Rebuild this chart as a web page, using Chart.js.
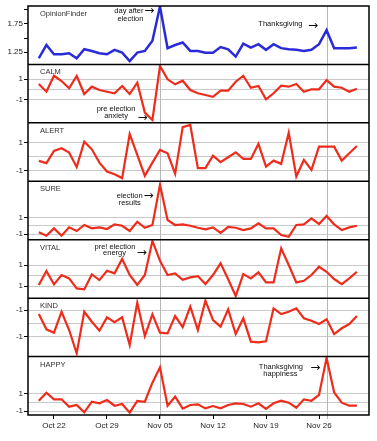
<!DOCTYPE html>
<html lang="en">
<head>
  <meta charset="UTF-8" />
  <title>Public mood time series</title>
  <script src="https://cdn.jsdelivr.net/npm/chart.js"></script>
  <style>
    html, body { margin: 0; padding: 0; background: #fff; }
    #wrap { width: 377px; height: 441px; }
  </style>
</head>
<body>
  <div id="wrap"><canvas id="moodChart"></canvas></div>

  <script>
    // day 0 = Oct 20 2008, one value per day up to Dec 1
    const tickDays = [2, 9, 16, 23, 30, 37];
    const tickLabels = ['Oct 22', 'Oct 29', 'Nov 05', 'Nov 12', 'Nov 19', 'Nov 26'];
    const markerDays = [16, 38]; // day after election, Thanksgiving

    const opinionFinder = [1.14, 1.375, 1.21, 1.21, 1.23, 1.14, 1.30, 1.27, 1.23, 1.21, 1.29, 1.24, 1.09, 1.24, 1.27, 1.45, 2.06, 1.32, 1.375, 1.42,
      1.27, 1.27, 1.24, 1.24, 1.34, 1.30, 1.17, 1.40, 1.33, 1.39, 1.29, 1.39, 1.32, 1.30, 1.29, 1.27, 1.29, 1.39, 1.64, 1.32, 1.32, 1.32, 1.33];
    const calm = [0.52, -0.21, 1.31, 0.81, 0.11, 1.29, -0.43, 0.27, -0.05, -0.21, -0.36, 0.33, -0.43, 0.65, -2.2, -2.9, 2.24, 0.97, 0.49, 0.84,
      -0.05, -0.36, -0.52, -0.69, -0.11, -0.11, 0.74, 1.31, 0.17, 0.33, -0.93, -0.36, 0.36, 0.27, 0.52, -0.21, 0.02, 0.02, 0.9, 0.27, 0.17, -0.21, 0.08];
    const alert = [-0.29, -0.45, 0.42, 0.6, 0.3, -0.73, 1.07, 0.53, -0.41, -1.04, -1.23, -1.5, 1.61, 0.13, -1.35, -0.41, 0.49, 0.25, -1.2, 2.1,
      2.25, -0.8, -0.8, 0.08, -0.38, -0.03, 0.32, -0.15, -0.15, 0.91, -0.69, -0.27, -0.5, 1.7, -1.39, -0.22, -0.92, 0.72, 0.72, 0.72, -0.27, 0.25, 0.77];
    const sure = [-0.8, -1.2, -0.32, -1.2, -0.2, -0.64, 0.08, -0.32, -0.2, -0.4, 0.16, -0.01, -0.64, 0.47, -0.25, 0.08, 4.9, 0.68, 0.08, 0.16,
      -0.01, -0.25, -0.44, -0.2, -0.85, -0.16, -0.25, -0.52, -0.32, 0.28, -0.32, -0.32, -1.12, -1.33, 0.08, 0.16, 0.88, 0.2, 1.16, 0.16, -0.52, -0.2, -0.01];
    const vital = [-0.9, 0.43, -0.84, 0.05, -0.27, -1.22, -1.32, 0.11, -0.43, 0.46, 0.21, 1.57, 0.05, -0.9, 0.05, 3.29, 1.4, 0.05, 0.21, -0.4,
      -0.17, -0.05, -0.81, 0.05, 1.16, -0.36, -1.95, 0.14, -0.27, 0.3, -0.65, -0.65, 2.59, 1.0, -0.65, -0.5, 0.05, 0.84, 0.36, -0.33, -0.81, -0.27, 0.36];
    const kind = [0.7, -0.45, -0.7, 0.87, -0.5, -2.24, 0.87, 0.12, -0.55, 0.45, 0.08, 0.45, -1.62, 1.55, -0.95, 0.68, -0.7, -0.75, 0.55, -0.28,
      1.25, -0.5, 1.7, 0.25, -0.25, 1.05, -0.8, 0.38, -1.37, -1.42, -1.35, 1.13, 0.7, 0.87, 1.13, 0.38, 0.2, -0.05, 0.3, -0.8, -0.37, -0.05, 0.55];
    const happy = [0.16, 1.07, 0.32, 0.32, -0.51, -0.32, -1.15, 0.05, -0.13, 0.24, -0.4, -0.21, -1.19, 0.13, 0.05, 2.2, 3.94, -0.4, 0.62, -0.73,
      -0.32, -0.24, -0.7, -0.44, -0.7, -0.32, -0.13, -0.21, -0.51, -0.13, -0.77, -0.13, 0.16, -0.06, -0.63, 0.32, 0.16, 0.81, 5.0, 1.1, -0.06, -0.4, -0.4];

    // y tick values and the text printed next to them
    const ofTicks = [1.25, 1.5, 1.75, 2.0];
    const ofTickLabels = ['1.25', '', '1.75', ''];
    const zTicks = [-1, 0, 1];
    const zTickLabels = ['-1', '', '1'];
    const vitalTickLabels = ['1', '', '1'];
    const kindTickLabels = ['-1', '', '-1'];

    const BLUE = '#2a2ad8';
    const RED = '#ee2c1c';

    // top to bottom
    const panels = [
      { id: 'yOF', name: 'OpinionFinder', data: opinionFinder, color: BLUE, min: 1.03, max: 2.07, ticks: ofTicks, labels: ofTickLabels },
      { id: 'yCALM', name: 'CALM', data: calm, color: RED, min: -3.18, max: 2.39, ticks: zTicks, labels: zTickLabels },
      { id: 'yALERT', name: 'ALERT', data: alert, color: RED, min: -1.73, max: 2.4, ticks: zTicks, labels: zTickLabels },
      { id: 'ySURE', name: 'SURE', data: sure, color: RED, min: -1.68, max: 5.31, ticks: zTicks, labels: zTickLabels },
      { id: 'yVITAL', name: 'VITAL', data: vital, color: RED, min: -2.15, max: 3.41, ticks: zTicks, labels: vitalTickLabels },
      { id: 'yKIND', name: 'KIND', data: kind, color: RED, min: -2.49, max: 1.89, ticks: zTicks, labels: kindTickLabels },
      { id: 'yHAPPY', name: 'HAPPY', data: happy, color: RED, min: -1.45, max: 5.15, ticks: zTicks, labels: zTickLabels }
    ];

    const notes = [
      { axis: 'yOF', day: 11.9, value: 1.98, text: 'day after' },
      { axis: 'yOF', day: 14.6, value: 1.99, text: '→' },
      { axis: 'yOF', day: 12.1, value: 1.84, text: 'election' },
      { axis: 'yOF', day: 31.9, value: 1.75, text: 'Thanksgiving' },
      { axis: 'yOF', day: 36.2, value: 1.71, text: '→' },
      { axis: 'yCALM', day: 10.2, value: -1.86, text: 'pre election' },
      { axis: 'yCALM', day: 10.2, value: -2.52, text: 'anxiety' },
      { axis: 'yCALM', day: 13.7, value: -2.68, text: '→' },
      { axis: 'ySURE', day: 12.0, value: 3.55, text: 'election' },
      { axis: 'ySURE', day: 14.5, value: 3.6, text: '→' },
      { axis: 'ySURE', day: 12.0, value: 2.77, text: 'results' },
      { axis: 'yVITAL', day: 10.05, value: 2.71, text: 'pre! election' },
      { axis: 'yVITAL', day: 10.0, value: 2.14, text: 'energy' },
      { axis: 'yVITAL', day: 13.6, value: 2.2, text: '→' },
      { axis: 'yHAPPY', day: 31.97, value: 3.97, text: 'Thanksgiving' },
      { axis: 'yHAPPY', day: 31.9, value: 3.24, text: 'happiness' },
      { axis: 'yHAPPY', day: 36.5, value: 3.9, text: '→' }
    ];

    Chart.defaults.font.family = "'Liberation Sans', Arial, sans-serif";
    Chart.defaults.font.size = 8;
    Chart.defaults.color = '#222';

    const datasets = panels.map(p => ({
      label: p.name,
      data: p.data.map((v, i) => ({ x: i, y: v })),
      yAxisID: p.id,
      borderColor: p.color,
      borderWidth: p.id === 'yOF' ? 2.5 : 2.2,
      pointRadius: 0,
      tension: 0,
      fill: false
    }));

    const scales = {
      x: {
        type: 'linear',
        min: -1.43,
        max: 43.6,
        border: { display: false },
        grid: { drawOnChartArea: false, tickLength: 4, tickColor: '#000' },
        afterBuildTicks: s => { s.ticks = tickDays.map(v => ({ value: v })); },
        ticks: {
          autoSkip: false,
          maxRotation: 0,
          padding: 2,
          callback: v => tickLabels[tickDays.indexOf(v)]
        },
        afterFit: s => { s.height = 26; }
      }
    };

    // stacked axes: the last one added ends up on top
    panels.slice().reverse().forEach(p => {
      scales[p.id] = {
        type: 'linear',
        position: 'left',
        stack: 'mood',
        stackWeight: 1,
        min: p.min,
        max: p.max,
        border: { display: false },
        grid: {
          drawOnChartArea: p.id !== 'yOF',
          color: '#c9c9c9',
          lineWidth: 1,
          tickLength: 4,
          tickColor: c => (c.tick && c.tick.value === 0 ? 'rgba(0,0,0,0)' : '#000')
        },
        afterBuildTicks: s => { s.ticks = p.ticks.map(v => ({ value: v })); },
        ticks: {
          autoSkip: false,
          padding: 1,
          callback: v => p.labels[p.ticks.indexOf(v)]
        },
        afterFit: s => { s.width = 28; }
      };
    });

    const framePlugin = {
      id: 'frame',
      beforeDatasetsDraw(chart) {
        const { ctx, chartArea: a } = chart;
        const x = chart.scales.x;
        ctx.save();
        ctx.strokeStyle = '#b8b8b8';
        ctx.lineWidth = 1;
        markerDays.forEach(d => {
          const px = Math.round(x.getPixelForValue(d)) + 0.5;
          ctx.beginPath();
          ctx.moveTo(px, a.top);
          ctx.lineTo(px, a.bottom + 4);
          ctx.stroke();
        });
        ctx.restore();
      },
      afterDatasetsDraw(chart) {
        const { ctx, chartArea: a } = chart;
        const x = chart.scales.x;
        ctx.save();
        ctx.strokeStyle = '#000';
        ctx.lineWidth = 1.5;
        ctx.strokeRect(a.left, a.top, a.right - a.left, a.bottom - a.top);
        ctx.font = "7.5px 'Liberation Sans', Arial, sans-serif";
        ctx.fillStyle = '#333';
        ctx.textBaseline = 'middle';
        panels.forEach((p, i) => {
          const s = chart.scales[p.id];
          if (i > 0) {
            ctx.beginPath();
            ctx.moveTo(a.left, s.top);
            ctx.lineTo(a.right, s.top);
            ctx.stroke();
          }
          ctx.textAlign = 'left';
          ctx.fillText(p.name, a.left + 12, s.top + 8);
        });
        ctx.fillStyle = '#111';
        ctx.textAlign = 'center';
        notes.forEach(n => {
          const s = chart.scales[n.axis];
          ctx.font = n.text === '→'
            ? "12px 'DejaVu Sans', sans-serif"
            : "7.5px 'Liberation Sans', Arial, sans-serif";
          ctx.fillText(n.text, x.getPixelForValue(n.day), s.getPixelForValue(n.value));
        });
        ctx.restore();
      }
    };

    new Chart(document.getElementById('moodChart'), {
      type: 'line',
      data: { datasets },
      options: {
        responsive: true,
        maintainAspectRatio: false,
        animation: false,
        layout: { padding: { left: 0, right: 8, top: 6, bottom: 0 } },
        plugins: {
          legend: { display: false },
          tooltip: { enabled: false }
        },
        scales
      },
      plugins: [framePlugin]
    });
  </script>
</body>
</html>
